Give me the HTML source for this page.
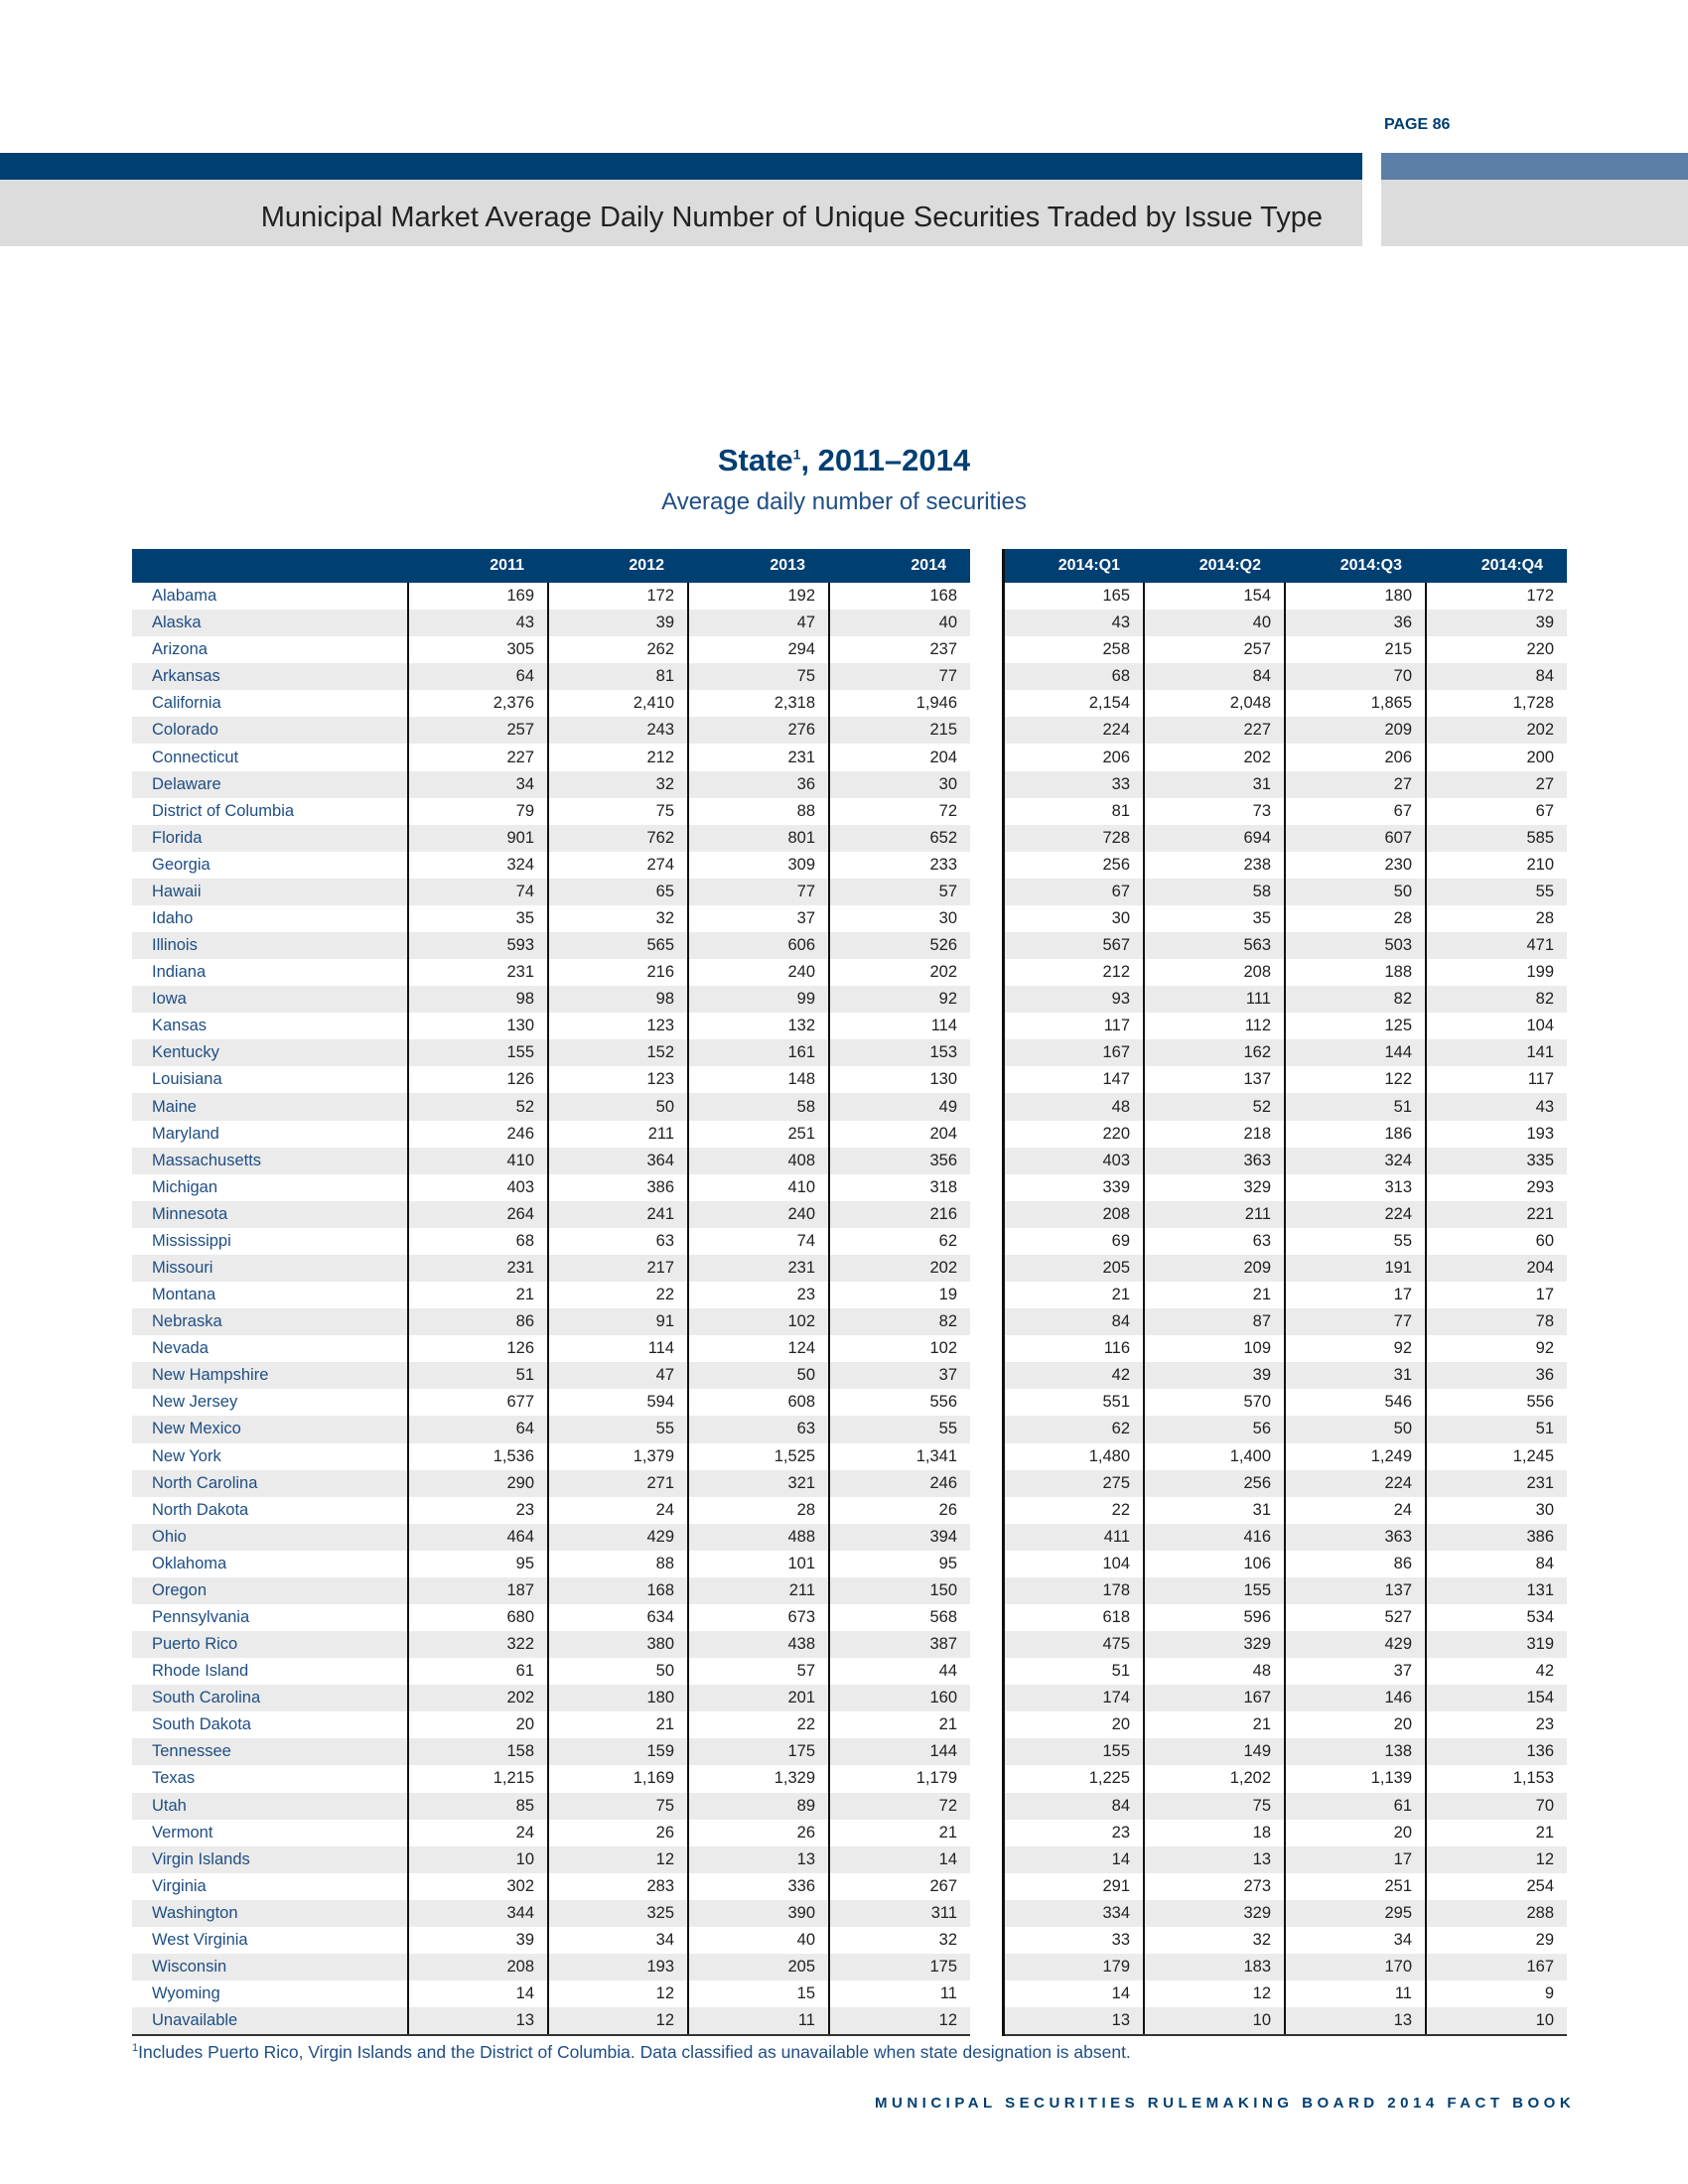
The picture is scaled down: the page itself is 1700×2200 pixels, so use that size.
<!DOCTYPE html>
<html><head><meta charset="utf-8"><style>
body{margin:0;width:1700px;height:2200px;position:relative;background:#fff;font-family:"Liberation Sans",sans-serif;overflow:hidden}
.abs{position:absolute}
table{position:absolute;left:133px;top:553px;width:1445px;border-collapse:collapse;table-layout:fixed;font-size:16.5px;color:#222}
td,th{padding:0 13px 0 0;text-align:right;white-space:nowrap;overflow:hidden}
th{background:#003f72;color:#fff;font-weight:bold;height:34px;font-size:16px;padding-right:24px}
tr.r td{height:27.08px;line-height:27px;padding-top:0;padding-bottom:0}
td.n{text-align:left;padding-left:20px;color:#1f4e84}
tr.r td{border-left:2px solid #111}
tr.r td.n{border-left:none}
td.g,th.g{background:#fff!important;border-left:none!important}
.q1{border-left:3px solid #111!important}
tr.r:nth-child(odd) td{background:#ebebeb}
tr.last td{border-bottom:2px solid #333}
tr.last td.g{border-bottom:none}
</style></head><body>
<div class="abs" style="left:1394px;top:117px;font-size:16px;font-weight:bold;color:#003f72">PAGE 86</div>
<div class="abs" style="left:0;top:154px;width:1372px;height:27px;background:#003f72"></div>
<div class="abs" style="left:1391px;top:154px;width:309px;height:27px;background:#5b7fa6"></div>
<div class="abs" style="left:0;top:181px;width:1372px;height:67px;background:#dcdcdc"></div>
<div class="abs" style="left:1391px;top:181px;width:309px;height:67px;background:#dcdcdc"></div>
<div class="abs" style="left:0;top:203px;width:1332px;text-align:right;font-size:29px;color:#222">Municipal Market Average Daily Number of Unique Securities Traded by Issue Type</div>
<div class="abs" style="left:0;top:446px;width:1700px;text-align:center;font-size:31px;font-weight:bold;color:#003f72">State<sup style="font-size:14px">1</sup>, 2011–2014</div>
<div class="abs" style="left:0;top:492px;width:1700px;text-align:center;font-size:24px;color:#1f4e84">Average daily number of securities</div>
<table>
<colgroup><col style="width:278px"><col style="width:141px"><col style="width:141px"><col style="width:142px"><col style="width:142px"><col style="width:33px"><col style="width:142px"><col style="width:142px"><col style="width:142px"><col style="width:142px"></colgroup>
<tr><th></th><th>2011</th><th>2012</th><th>2013</th><th>2014</th><th class="g"></th><th class="q1">2014:Q1</th><th>2014:Q2</th><th>2014:Q3</th><th>2014:Q4</th></tr>
<tr class="r"><td class="n">Alabama</td><td>169</td><td>172</td><td>192</td><td>168</td><td class="g"></td><td class="q1">165</td><td>154</td><td>180</td><td>172</td></tr>
<tr class="r"><td class="n">Alaska</td><td>43</td><td>39</td><td>47</td><td>40</td><td class="g"></td><td class="q1">43</td><td>40</td><td>36</td><td>39</td></tr>
<tr class="r"><td class="n">Arizona</td><td>305</td><td>262</td><td>294</td><td>237</td><td class="g"></td><td class="q1">258</td><td>257</td><td>215</td><td>220</td></tr>
<tr class="r"><td class="n">Arkansas</td><td>64</td><td>81</td><td>75</td><td>77</td><td class="g"></td><td class="q1">68</td><td>84</td><td>70</td><td>84</td></tr>
<tr class="r"><td class="n">California</td><td>2,376</td><td>2,410</td><td>2,318</td><td>1,946</td><td class="g"></td><td class="q1">2,154</td><td>2,048</td><td>1,865</td><td>1,728</td></tr>
<tr class="r"><td class="n">Colorado</td><td>257</td><td>243</td><td>276</td><td>215</td><td class="g"></td><td class="q1">224</td><td>227</td><td>209</td><td>202</td></tr>
<tr class="r"><td class="n">Connecticut</td><td>227</td><td>212</td><td>231</td><td>204</td><td class="g"></td><td class="q1">206</td><td>202</td><td>206</td><td>200</td></tr>
<tr class="r"><td class="n">Delaware</td><td>34</td><td>32</td><td>36</td><td>30</td><td class="g"></td><td class="q1">33</td><td>31</td><td>27</td><td>27</td></tr>
<tr class="r"><td class="n">District of Columbia</td><td>79</td><td>75</td><td>88</td><td>72</td><td class="g"></td><td class="q1">81</td><td>73</td><td>67</td><td>67</td></tr>
<tr class="r"><td class="n">Florida</td><td>901</td><td>762</td><td>801</td><td>652</td><td class="g"></td><td class="q1">728</td><td>694</td><td>607</td><td>585</td></tr>
<tr class="r"><td class="n">Georgia</td><td>324</td><td>274</td><td>309</td><td>233</td><td class="g"></td><td class="q1">256</td><td>238</td><td>230</td><td>210</td></tr>
<tr class="r"><td class="n">Hawaii</td><td>74</td><td>65</td><td>77</td><td>57</td><td class="g"></td><td class="q1">67</td><td>58</td><td>50</td><td>55</td></tr>
<tr class="r"><td class="n">Idaho</td><td>35</td><td>32</td><td>37</td><td>30</td><td class="g"></td><td class="q1">30</td><td>35</td><td>28</td><td>28</td></tr>
<tr class="r"><td class="n">Illinois</td><td>593</td><td>565</td><td>606</td><td>526</td><td class="g"></td><td class="q1">567</td><td>563</td><td>503</td><td>471</td></tr>
<tr class="r"><td class="n">Indiana</td><td>231</td><td>216</td><td>240</td><td>202</td><td class="g"></td><td class="q1">212</td><td>208</td><td>188</td><td>199</td></tr>
<tr class="r"><td class="n">Iowa</td><td>98</td><td>98</td><td>99</td><td>92</td><td class="g"></td><td class="q1">93</td><td>111</td><td>82</td><td>82</td></tr>
<tr class="r"><td class="n">Kansas</td><td>130</td><td>123</td><td>132</td><td>114</td><td class="g"></td><td class="q1">117</td><td>112</td><td>125</td><td>104</td></tr>
<tr class="r"><td class="n">Kentucky</td><td>155</td><td>152</td><td>161</td><td>153</td><td class="g"></td><td class="q1">167</td><td>162</td><td>144</td><td>141</td></tr>
<tr class="r"><td class="n">Louisiana</td><td>126</td><td>123</td><td>148</td><td>130</td><td class="g"></td><td class="q1">147</td><td>137</td><td>122</td><td>117</td></tr>
<tr class="r"><td class="n">Maine</td><td>52</td><td>50</td><td>58</td><td>49</td><td class="g"></td><td class="q1">48</td><td>52</td><td>51</td><td>43</td></tr>
<tr class="r"><td class="n">Maryland</td><td>246</td><td>211</td><td>251</td><td>204</td><td class="g"></td><td class="q1">220</td><td>218</td><td>186</td><td>193</td></tr>
<tr class="r"><td class="n">Massachusetts</td><td>410</td><td>364</td><td>408</td><td>356</td><td class="g"></td><td class="q1">403</td><td>363</td><td>324</td><td>335</td></tr>
<tr class="r"><td class="n">Michigan</td><td>403</td><td>386</td><td>410</td><td>318</td><td class="g"></td><td class="q1">339</td><td>329</td><td>313</td><td>293</td></tr>
<tr class="r"><td class="n">Minnesota</td><td>264</td><td>241</td><td>240</td><td>216</td><td class="g"></td><td class="q1">208</td><td>211</td><td>224</td><td>221</td></tr>
<tr class="r"><td class="n">Mississippi</td><td>68</td><td>63</td><td>74</td><td>62</td><td class="g"></td><td class="q1">69</td><td>63</td><td>55</td><td>60</td></tr>
<tr class="r"><td class="n">Missouri</td><td>231</td><td>217</td><td>231</td><td>202</td><td class="g"></td><td class="q1">205</td><td>209</td><td>191</td><td>204</td></tr>
<tr class="r"><td class="n">Montana</td><td>21</td><td>22</td><td>23</td><td>19</td><td class="g"></td><td class="q1">21</td><td>21</td><td>17</td><td>17</td></tr>
<tr class="r"><td class="n">Nebraska</td><td>86</td><td>91</td><td>102</td><td>82</td><td class="g"></td><td class="q1">84</td><td>87</td><td>77</td><td>78</td></tr>
<tr class="r"><td class="n">Nevada</td><td>126</td><td>114</td><td>124</td><td>102</td><td class="g"></td><td class="q1">116</td><td>109</td><td>92</td><td>92</td></tr>
<tr class="r"><td class="n">New Hampshire</td><td>51</td><td>47</td><td>50</td><td>37</td><td class="g"></td><td class="q1">42</td><td>39</td><td>31</td><td>36</td></tr>
<tr class="r"><td class="n">New Jersey</td><td>677</td><td>594</td><td>608</td><td>556</td><td class="g"></td><td class="q1">551</td><td>570</td><td>546</td><td>556</td></tr>
<tr class="r"><td class="n">New Mexico</td><td>64</td><td>55</td><td>63</td><td>55</td><td class="g"></td><td class="q1">62</td><td>56</td><td>50</td><td>51</td></tr>
<tr class="r"><td class="n">New York</td><td>1,536</td><td>1,379</td><td>1,525</td><td>1,341</td><td class="g"></td><td class="q1">1,480</td><td>1,400</td><td>1,249</td><td>1,245</td></tr>
<tr class="r"><td class="n">North Carolina</td><td>290</td><td>271</td><td>321</td><td>246</td><td class="g"></td><td class="q1">275</td><td>256</td><td>224</td><td>231</td></tr>
<tr class="r"><td class="n">North Dakota</td><td>23</td><td>24</td><td>28</td><td>26</td><td class="g"></td><td class="q1">22</td><td>31</td><td>24</td><td>30</td></tr>
<tr class="r"><td class="n">Ohio</td><td>464</td><td>429</td><td>488</td><td>394</td><td class="g"></td><td class="q1">411</td><td>416</td><td>363</td><td>386</td></tr>
<tr class="r"><td class="n">Oklahoma</td><td>95</td><td>88</td><td>101</td><td>95</td><td class="g"></td><td class="q1">104</td><td>106</td><td>86</td><td>84</td></tr>
<tr class="r"><td class="n">Oregon</td><td>187</td><td>168</td><td>211</td><td>150</td><td class="g"></td><td class="q1">178</td><td>155</td><td>137</td><td>131</td></tr>
<tr class="r"><td class="n">Pennsylvania</td><td>680</td><td>634</td><td>673</td><td>568</td><td class="g"></td><td class="q1">618</td><td>596</td><td>527</td><td>534</td></tr>
<tr class="r"><td class="n">Puerto Rico</td><td>322</td><td>380</td><td>438</td><td>387</td><td class="g"></td><td class="q1">475</td><td>329</td><td>429</td><td>319</td></tr>
<tr class="r"><td class="n">Rhode Island</td><td>61</td><td>50</td><td>57</td><td>44</td><td class="g"></td><td class="q1">51</td><td>48</td><td>37</td><td>42</td></tr>
<tr class="r"><td class="n">South Carolina</td><td>202</td><td>180</td><td>201</td><td>160</td><td class="g"></td><td class="q1">174</td><td>167</td><td>146</td><td>154</td></tr>
<tr class="r"><td class="n">South Dakota</td><td>20</td><td>21</td><td>22</td><td>21</td><td class="g"></td><td class="q1">20</td><td>21</td><td>20</td><td>23</td></tr>
<tr class="r"><td class="n">Tennessee</td><td>158</td><td>159</td><td>175</td><td>144</td><td class="g"></td><td class="q1">155</td><td>149</td><td>138</td><td>136</td></tr>
<tr class="r"><td class="n">Texas</td><td>1,215</td><td>1,169</td><td>1,329</td><td>1,179</td><td class="g"></td><td class="q1">1,225</td><td>1,202</td><td>1,139</td><td>1,153</td></tr>
<tr class="r"><td class="n">Utah</td><td>85</td><td>75</td><td>89</td><td>72</td><td class="g"></td><td class="q1">84</td><td>75</td><td>61</td><td>70</td></tr>
<tr class="r"><td class="n">Vermont</td><td>24</td><td>26</td><td>26</td><td>21</td><td class="g"></td><td class="q1">23</td><td>18</td><td>20</td><td>21</td></tr>
<tr class="r"><td class="n">Virgin Islands</td><td>10</td><td>12</td><td>13</td><td>14</td><td class="g"></td><td class="q1">14</td><td>13</td><td>17</td><td>12</td></tr>
<tr class="r"><td class="n">Virginia</td><td>302</td><td>283</td><td>336</td><td>267</td><td class="g"></td><td class="q1">291</td><td>273</td><td>251</td><td>254</td></tr>
<tr class="r"><td class="n">Washington</td><td>344</td><td>325</td><td>390</td><td>311</td><td class="g"></td><td class="q1">334</td><td>329</td><td>295</td><td>288</td></tr>
<tr class="r"><td class="n">West Virginia</td><td>39</td><td>34</td><td>40</td><td>32</td><td class="g"></td><td class="q1">33</td><td>32</td><td>34</td><td>29</td></tr>
<tr class="r"><td class="n">Wisconsin</td><td>208</td><td>193</td><td>205</td><td>175</td><td class="g"></td><td class="q1">179</td><td>183</td><td>170</td><td>167</td></tr>
<tr class="r"><td class="n">Wyoming</td><td>14</td><td>12</td><td>15</td><td>11</td><td class="g"></td><td class="q1">14</td><td>12</td><td>11</td><td>9</td></tr>
<tr class="r last"><td class="n">Unavailable</td><td>13</td><td>12</td><td>11</td><td>12</td><td class="g"></td><td class="q1">13</td><td>10</td><td>13</td><td>10</td></tr>
</table>
<div class="abs" style="left:133px;top:2057px;font-size:17.5px;color:#1f4e84"><sup style="font-size:11px">1</sup>Includes Puerto Rico, Virgin Islands and the District of Columbia. Data classified as unavailable when state designation is absent.</div>
<div class="abs" style="left:881px;top:2110px;font-size:15px;font-weight:bold;color:#003f72;letter-spacing:4.5px;white-space:nowrap">MUNICIPAL SECURITIES RULEMAKING BOARD 2014 FACT BOOK</div>
</body></html>
